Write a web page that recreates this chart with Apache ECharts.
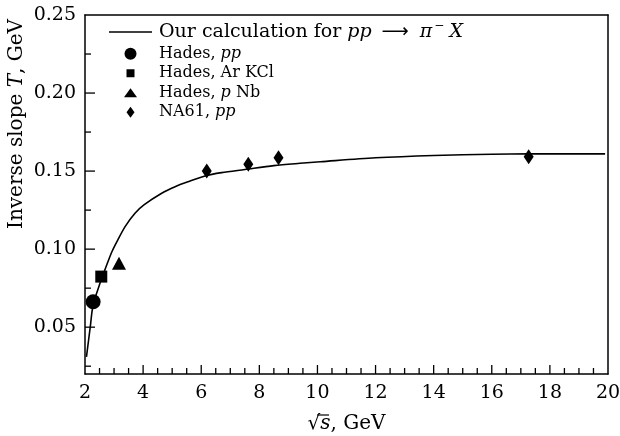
<!DOCTYPE html>
<html>
<head>
<meta charset="utf-8">
<script src="https://cdn.jsdelivr.net/npm/echarts@6/dist/echarts.min.js"></script>
<style>
  html, body { margin: 0; padding: 0; background: #fff; }
  #chart { width: 620px; height: 436px; }
</style>
</head>
<body>
<div id="chart"></div>
<script>
// curve
const calcX = [2.05, 2.18, 2.28, 2.47, 2.56, 2.76, 2.93, 3.09, 3.38, 3.72, 4.04, 4.64, 5.1, 5.55, 6.13, 6.7, 7.5, 8.5, 9.4, 10.1, 12, 14, 16, 17.3, 19.9]
const calcY = [0.031, 0.05, 0.0645, 0.0755, 0.0805, 0.0905, 0.0985, 0.1045, 0.1144, 0.123, 0.1285, 0.1358, 0.140, 0.1432, 0.1469, 0.149, 0.151, 0.1535, 0.155, 0.156, 0.1585, 0.160, 0.1608, 0.161, 0.161]

// measured points
const hadesPP = [[2.28, 0.0663]]
const hadesArKCl = [[2.56, 0.0824]]
const hadesPNb = [[3.17, 0.091]]
const na61PP = [[6.19, 0.150], [7.62, 0.1544], [8.66, 0.1586], [17.27, 0.1592]]

// axes + ticks
const xMin = 2, xMax = 20
const yMin = 0.02, yMax = 0.25
const yLabels = [0.05, 0.10, 0.15, 0.20, 0.25]
const yMajor = [0.05, 0.10, 0.15, 0.20]
const yMinor = [0.025, 0.075, 0.125, 0.175, 0.225]
const xMajor = [4, 6, 8, 10, 12, 14, 16, 18]
const xMinor = [2.5, 3, 3.5, 4.5, 5, 5.5, 6.5, 7, 7.5, 8.5, 9, 9.5, 10.5, 11, 11.5, 12.5, 13, 13.5, 14.5, 15, 15.5, 16.5, 17, 17.5, 18.5, 19, 19.5]

const legendText = {
  calc: '{big|Our calculation for }{bi|pp}{arr|⟶}{bi|π}{sup|−}{bx|X}',
  hpp: 'Hades, {i|pp}',
  har: 'Hades, Ar KCl',
  hnb: 'Hades, {i|p} Nb',
  na61: 'NA61, {i|pp}'
}

const FONT = 'DejaVu Serif'
const black = '#000'
const frame = () => ({ show: true, onZero: false, lineStyle: { color: black, width: 1.5 } })
const off = { show: false }

// inward tick marks, placed through the axes' own scales
function xTicks(values, len) {
  return {
    type: 'custom', silent: true, z: 4,
    data: values.map((v) => [v, yMin]),
    renderItem: (params, api) => {
      const p = api.coord([api.value(0), api.value(1)])
      return { type: 'line', shape: { x1: p[0], y1: p[1], x2: p[0], y2: p[1] - len }, style: { stroke: black, lineWidth: 1.3 } }
    }
  }
}
function yTicks(values, len) {
  return {
    type: 'custom', silent: true, z: 4,
    data: values.map((v) => [xMin, v]),
    renderItem: (params, api) => {
      const p = api.coord([api.value(0), api.value(1)])
      return { type: 'line', shape: { x1: p[0], y1: p[1], x2: p[0] + len, y2: p[1] }, style: { stroke: black, lineWidth: 1.3 } }
    }
  }
}

const chart = echarts.init(document.getElementById('chart'))
chart.setOption({
  animation: false,
  backgroundColor: '#fff',
  grid: { left: 85, right: 12, top: 15, bottom: 62, containLabel: false, outerBoundsMode: 'none' },
  legend: {
    orient: 'vertical',
    left: 104,
    top: 15,
    itemWidth: 43,
    itemHeight: 12,
    itemGap: 0,
    data: [
      { name: 'calc', icon: 'path://M0,0L43,0L43,1.6L0,1.6Z' },
      { name: 'hpp', icon: 'circle' },
      { name: 'har', icon: 'path://M0,0M12,12M2,2L10,2L10,10L2,10Z' },
      { name: 'hnb', icon: 'path://M0,0M13,12M0,10.5L6.5,1.5L13,10.5Z' },
      { name: 'na61', icon: 'path://M0,0M12,12M6,0.5L10,6L6,11.5L2,6Z' }
    ],
    formatter: (n) => legendText[n],
    textStyle: {
      fontFamily: FONT, fontSize: 16, color: black, lineHeight: 19.5, padding: [0, 0, 0, 2],
      rich: {
        i: { fontFamily: FONT, fontStyle: 'italic', fontSize: 16, color: black, lineHeight: 19.5 },
        big: { fontFamily: FONT, fontSize: 19, color: black, lineHeight: 24 },
        bi: { fontFamily: FONT, fontStyle: 'italic', fontSize: 19, color: black, lineHeight: 24 },
        bx: { fontFamily: FONT, fontStyle: 'italic', fontSize: 19, color: black, lineHeight: 24, padding: [0, 0, 0, 5] },
        arr: { fontFamily: 'DejaVu Sans', fontSize: 19, color: black, lineHeight: 24, padding: [0, 11, 0, 10] },
        sup: { fontFamily: FONT, fontSize: 12, color: black, verticalAlign: 'top', lineHeight: 14, padding: [0, 0, 0, 2] }
      }
    }
  },
  xAxis: [
    {
      type: 'value',
      min: xMin, max: xMax, interval: 2,
      name: '√{i|s}, GeV',
      nameLocation: 'middle',
      nameGap: 40,
      nameTextStyle: {
        fontFamily: FONT, fontSize: 20, color: black,
        rich: { i: { fontFamily: FONT, fontStyle: 'italic', fontSize: 20, color: black } }
      },
      axisLine: frame(),
      axisTick: off,
      axisLabel: { show: true, fontFamily: FONT, fontSize: 19, color: black, margin: 10 },
      splitLine: off
    },
    {
      type: 'value', position: 'top', min: xMin, max: xMax,
      axisLine: frame(), axisTick: off, axisLabel: off, splitLine: off
    }
  ],
  yAxis: [
    {
      type: 'value',
      min: yMin, max: yMax,
      axisLine: frame(),
      axisTick: off,
      axisLabel: { show: true, fontFamily: FONT, fontSize: 19, color: black, margin: 9, customValues: yLabels, formatter: (v) => v.toFixed(2) },
      splitLine: off
    },
    {
      type: 'value', position: 'right', min: yMin, max: yMax,
      axisLine: frame(), axisTick: off, axisLabel: off, splitLine: off
    }
  ],
  graphic: [
    {
      type: 'text',
      x: 17, y: 124,
      rotation: Math.PI / 2,
      style: {
        text: 'Inverse slope {i|T}, GeV',
        fontFamily: FONT, fontSize: 20, fill: black,
        align: 'center', verticalAlign: 'middle',
        rich: { i: { fontFamily: FONT, fontStyle: 'italic', fontSize: 20, fill: black } }
      }
    },
    {
      // bar over the s of the root sign
      type: 'line',
      shape: { x1: 317, y1: 415, x2: 329, y2: 415 },
      style: { stroke: black, lineWidth: 1.2 }
    }
  ],
  series: [
    {
      type: 'line',
      name: 'calc',
      data: calcX.map((x, i) => [x, calcY[i]]),
      smooth: 0.3,
      symbol: 'none',
      lineStyle: { color: black, width: 1.6 },
      itemStyle: { color: black },
      z: 2
    },
    { type: 'scatter', name: 'hpp', data: hadesPP, symbol: 'circle', symbolSize: 15, itemStyle: { color: black, opacity: 1 }, z: 3 },
    { type: 'scatter', name: 'har', data: hadesArKCl, symbol: 'rect', symbolSize: 12, itemStyle: { color: black, opacity: 1 }, z: 3 },
    { type: 'scatter', name: 'hnb', data: hadesPNb, symbol: 'triangle', symbolSize: [14, 13], itemStyle: { color: black, opacity: 1 }, z: 3 },
    { type: 'scatter', name: 'na61', data: na61PP, symbol: 'diamond', symbolSize: [10, 15], itemStyle: { color: black, opacity: 1 }, z: 3 },
    xTicks(xMajor, 9),
    xTicks(xMinor, 6),
    yTicks(yMajor, 10),
    yTicks(yMinor, 6)
  ]
})
</script>
</body>
</html>
